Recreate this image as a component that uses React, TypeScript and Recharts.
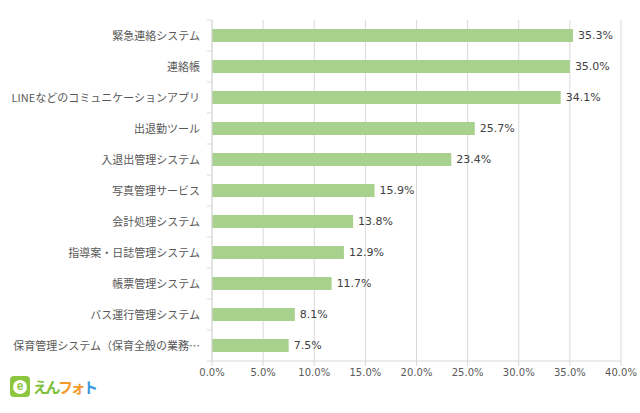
import { BarChart, Bar, XAxis, YAxis, CartesianGrid, LabelList } from 'recharts';

// categories top -> bottom
const categories = [
  '緊急連絡システム',
  '連絡帳',
  'LINEなどのコミュニケーションアプリ',
  '出退勤ツール',
  '入退出管理システム',
  '写真管理サービス',
  '会計処理システム',
  '指導案・日誌管理システム',
  '帳票管理システム',
  'バス運行管理システム',
  '保育管理システム（保育全般の業務…',
];
const rates = [35.3, 35.0, 34.1, 25.7, 23.4, 15.9, 13.8, 12.9, 11.7, 8.1, 7.5];
const xTicks = [0, 5, 10, 15, 20, 25, 30, 35, 40];

const data = categories.map((name, i) => ({ name, rate: rates[i] }));

const JP_FONT = '"Noto Sans CJK JP", "Noto Sans", sans-serif';
const NUM_FONT = '"DejaVu Sans", Verdana, sans-serif';
const GRID = '#d9d9d9';
const BAND = 31;
const TICK_MARGIN = 12;

// category label plus a small tick mark at the band boundary (like Excel)
function CategoryTick(props: any) {
  const { x, y, payload, index } = props;
  const axisX = x + TICK_MARGIN;
  const last = index === categories.length - 1;
  return (
    <g>
      <line x1={axisX - 5} x2={axisX} y1={y - BAND / 2} y2={y - BAND / 2} stroke={GRID} />
      {last && <line x1={axisX - 5} x2={axisX} y1={y + BAND / 2} y2={y + BAND / 2} stroke={GRID} />}
      <text x={x} y={y} dy={4} textAnchor="end" fontSize={11} fill="#595959" fontFamily={JP_FONT}>
        {payload.value}
      </text>
    </g>
  );
}

function Logo() {
  return (
    <div style={{ position: 'absolute', left: 10, top: 376, display: 'flex', alignItems: 'center', gap: 3 }}>
      <div
        style={{
          width: 20,
          height: 21,
          borderRadius: 4,
          background: '#8cc63f',
          display: 'flex',
          alignItems: 'center',
          justifyContent: 'center',
        }}
      >
        <div
          style={{
            width: 14,
            height: 14,
            borderRadius: '50%',
            background: '#fff',
            color: '#8cc63f',
            fontSize: 12,
            fontWeight: 700,
            lineHeight: '13px',
            textAlign: 'center',
            fontFamily: 'Arial, sans-serif',
          }}
        >
          e
        </div>
      </div>
      <div style={{ fontFamily: JP_FONT, fontWeight: 700, fontSize: 15, letterSpacing: -2.5, lineHeight: '21px' }}>
        <span style={{ color: '#7cbf3a' }}>えん</span>
        <span style={{ color: '#f39a2b' }}>フォ</span>
        <span style={{ color: '#3a9ad9' }}>ト</span>
      </div>
    </div>
  );
}

export default function App() {
  return (
    <div style={{ position: 'absolute', left: 0, top: 0, width: 640, height: 413, background: '#fff' }}>
      <BarChart
        width={640}
        height={413}
        data={data}
        layout="vertical"
        margin={{ top: 20, right: 19, left: 0, bottom: 22 }}
        barCategoryGap={0}
      >
        <CartesianGrid vertical horizontal={false} stroke={GRID} />
        <XAxis
          type="number"
          domain={[0, 40]}
          ticks={xTicks}
          tickFormatter={(v: number) => `${v.toFixed(1)}%`}
          stroke={GRID}
          tickSize={5}
          tickMargin={3}
          height={30}
          tick={{ fontSize: 10, fill: '#595959', fontFamily: NUM_FONT }}
          interval={0}
        />
        <YAxis
          type="category"
          dataKey="name"
          width={212}
          stroke={GRID}
          tickLine={false}
          tickSize={0}
          tickMargin={TICK_MARGIN}
          interval={0}
          tick={<CategoryTick />}
        />
        <Bar dataKey="rate" fill="#a9d18e" barSize={13} isAnimationActive={false}>
          <LabelList
            dataKey="rate"
            position="right"
            offset={5}
            formatter={(v: number) => `${v.toFixed(1)}%`}
            style={{ fontSize: 11, fill: '#404040', fontFamily: NUM_FONT }}
          />
        </Bar>
      </BarChart>
      <Logo />
    </div>
  );
}
